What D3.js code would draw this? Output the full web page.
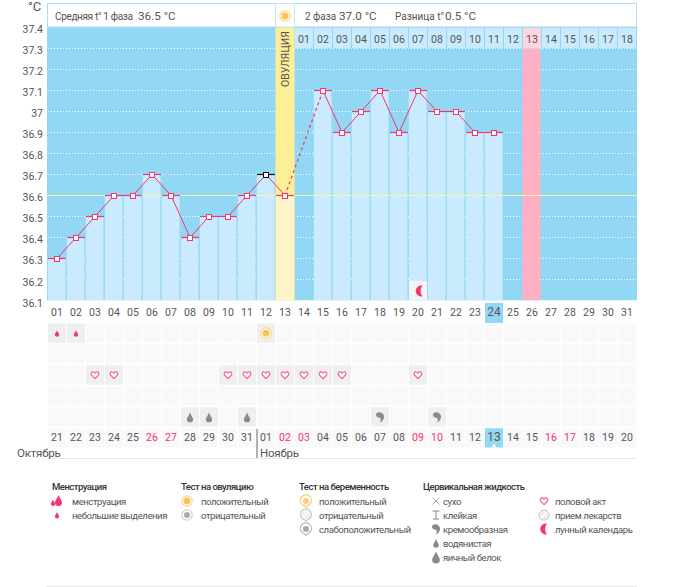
<!DOCTYPE html>
<html>
    <head>
        <meta charset="utf-8">
        <script src="https://d3js.org/d3.v7.min.js"></script>
        <title>График БТТ</title>
        <style>
            body { margin: 0; background-color: #fff }
            svg { display: block }
            text { font-family: Roboto, sans-serif; fill: #555 }
            .num { font-size: 10.5px; text-anchor: middle }
            .axis text { font-family: Roboto, sans-serif; font-size: 10.5px; fill: #555 }
        </style>
    </head>
    <body>
        <script>
            /* data */
            const days = d3.range(1, 32)
            const temps = [36.3, 36.4, 36.5, 36.6, 36.6, 36.7, 36.6, 36.4, 36.5, 36.5, 36.6, 36.7, 36.6,
                null, 37.1, 36.9, 37.0, 37.1, 36.9, 37.1, 37.0, 37.0, 36.9, 36.9]
            const yTicks = [37.4, 37.3, 37.2, 37.1, 37, 36.9, 36.8, 36.7, 36.6, 36.5, 36.4, 36.3, 36.2, 36.1]
            const calendarDays = ['21', '22', '23', '24', '25', '26', '27', '28', '29', '30', '31',
                '01', '02', '03', '04', '05', '06', '07', '08', '09', '10',
                '11', '12', '13', '14', '15', '16', '17', '18', '19', '20']
            const weekendDays = [6, 7, 13, 14, 20, 21, 27, 28]
            const ovulationDay = 13
            const todayDay = 24
            const periodDay = 26
            const blackDay = 12
            const coverline = 36.6
            const phase2Days = d3.range(14, 32)
            const spottingDays = [1, 2]
            const ovulationTestDays = [12]
            const heartDays = [3, 4, 10, 11, 12, 13, 14, 15, 16, 20]
            const wateryDays = [8, 9, 11]
            const creamyDays = [18, 21]
            const moonDays = [20]
            const rows = [0, 1, 2, 3, 4, 5]

            /* canvas setup */
            const width = 675
            const height = 587
            const pink = '#f6346e'
            const grey = '#8a8a8a'
            const sky = '#92d8f5'
            const pale = '#c9ebfd'

            const x = d3.scaleBand().domain(days).range([47.5, 636.5])
            const y = d3.scaleLinear().domain([36.1, 37.4]).range([300.3, 26.5])
            const row = d3.scaleBand().domain(rows).range([323.5, 447.5]).paddingInner(0.08)
            const cx = d => x(d) + x.bandwidth() / 2
            const cy = v => Math.round(y(v)) + 0.5

            const svg = d3.select('body').append('svg')
                .attr('width', width)
                .attr('height', height)

            /* icons, drawn around 0,0 */
            const dropPath = s => `M0,${-s}C${s * 0.25},${-s * 0.3} ${s * 0.7},${s * 0.1} ${s * 0.7},${s * 0.5}A${s * 0.7},${s * 0.7} 0 1 1 ${-s * 0.7},${s * 0.5}C${-s * 0.7},${s * 0.1} ${-s * 0.25},${-s * 0.3} 0,${-s}Z`
            const testPath = 'M-5.5,-1.5A5.5,5.5 0 1 1 2,4.5L0,6.5L-2,4.5A5.5,5.5 0 0 1 -5.5,-1.5Z'
            const icons = {
                drop: (g, s = 3.5, c = grey) => g.append('path').attr('d', dropPath(s)).attr('fill', c),
                heart: g => g.append('path')
                    .attr('d', 'M0,3.6L-3.4,0.2C-4.7,-1.6 -3.1,-3.5 -1.6,-3.1C-0.9,-2.9 -0.3,-2.5 0,-1.9C0.3,-2.5 0.9,-2.9 1.6,-3.1C3.1,-3.5 4.7,-1.6 3.4,0.2Z')
                    .attr('fill', '#fff').attr('stroke', '#f8558a').attr('stroke-width', 1.1),
                sun: g => {
                    g.append('circle').attr('r', 5.2).attr('fill', '#fff').attr('stroke', '#fbd77e').attr('stroke-width', 1.2)
                    g.append('circle').attr('r', 3.4).attr('fill', '#f9c25c')
                },
                sunGrey: g => {
                    g.append('circle').attr('r', 5.2).attr('fill', '#fff').attr('stroke', '#cfcfcf').attr('stroke-width', 1.2)
                    g.append('circle').attr('r', 3).attr('fill', '#aaa')
                },
                moon: g => g.append('path')
                    .attr('d', 'M3,-5.2A5.4,5.4 0 1 0 3,5.2A8,8 0 0 1 3,-5.2Z')
                    .attr('fill', '#f6346e'),
                comma: g => g.append('path')
                    .attr('d', 'M-4,-2.5C-3.5,-5 1,-5.5 3,-3C5,-0.5 4,3.5 0,5.5C1.2,3 1,1.2 -0.5,0.8C-2.5,0.6 -4.3,-0.5 -4,-2.5Z')
                    .attr('fill', grey),
                dry: g => g.append('path')
                    .attr('d', 'M-3.5,-3.5L3.5,3.5M3.5,-3.5L-3.5,3.5')
                    .attr('stroke', '#aaa').attr('fill', 'none'),
                sticky: g => g.append('path')
                    .attr('d', 'M-3.5,-4H3.5M0,-4V4M-3,4H3')
                    .attr('stroke', '#888').attr('fill', 'none'),
                flow: g => {
                    g.append('path').attr('d', dropPath(5)).attr('transform', 'translate(1.5,-1)').attr('fill', pink)
                    g.append('path').attr('d', dropPath(3)).attr('transform', 'translate(-4,1.5)').attr('fill', pink)
                },
                testPos: g => {
                    g.append('path').attr('d', testPath).attr('fill', '#fff').attr('stroke', '#f9cf78').attr('stroke-width', 1.2)
                    g.append('circle').attr('r', 3).attr('fill', '#f9cf78')
                },
                testNeg: g => g.append('path').attr('d', testPath).attr('fill', '#f4f4f4').attr('stroke', '#ccc').attr('stroke-width', 1.2),
                testWeak: g => {
                    g.append('path').attr('d', testPath).attr('fill', '#fff').attr('stroke', '#bbb').attr('stroke-width', 1.2)
                    g.append('circle').attr('r', 3).attr('fill', '#aaa')
                },
                pill: g => {
                    g.append('circle').attr('r', 5.2).attr('fill', '#eee').attr('stroke', '#ccc')
                    g.append('path').attr('d', 'M-3,3L3,-3').attr('stroke', '#fff').attr('stroke-width', 1.5)
                }
            }
            const putIcon = (px, py, draw, ...args) => draw(svg.append('g').attr('transform', `translate(${px},${py})`), ...args)

            /* chart background */
            svg.append('rect')
                .attr('x', 47).attr('y', 27).attr('width', 590).attr('height', y(36.1) - 27)
                .attr('fill', sky)

            svg.append('g').selectAll('line')
                .data(yTicks.slice(1))
                .join('line')
                    .attr('x1', 48).attr('x2', 636)
                    .attr('y1', d => cy(d)).attr('y2', d => cy(d))
                    .attr('stroke', '#fff')
                    .attr('stroke-dasharray', '1,2')

            /* ovulation and period columns */
            svg.append('rect')
                .attr('x', x(ovulationDay)).attr('y', 27).attr('width', x.bandwidth()).attr('height', y(36.1) - 27)
                .attr('fill', '#fdee98')
            svg.append('rect')
                .attr('x', x(periodDay)).attr('y', y(37.3) + 1).attr('width', x.bandwidth() - 1).attr('height', y(36.1) - y(37.3) - 1)
                .attr('fill', '#ffb0c4')

            /* bars */
            svg.append('g').selectAll('rect')
                .data(temps.map((t, i) => ({ day: i + 1, t })).filter(d => d.t !== null))
                .join('rect')
                    .attr('x', d => x(d.day) + 0.3)
                    .attr('y', d => cy(d.t))
                    .attr('width', d => d.day === ovulationDay ? x.bandwidth() - 0.6 : x.bandwidth() - 1.3)
                    .attr('height', d => y(36.1) - cy(d.t))
                    .attr('fill', d => d.day === ovulationDay ? '#fdf4c8' : pale)

            /* coverline */
            svg.append('line')
                .attr('x1', 47).attr('x2', 637)
                .attr('y1', cy(coverline)).attr('y2', cy(coverline))
                .attr('stroke', '#f7f3a8')

            /* header */
            svg.append('rect')
                .attr('x', 47.5).attr('y', 3.5).attr('width', 589).attr('height', 23.5)
                .attr('fill', '#fff').attr('stroke', '#a8dff6')
            svg.append('rect')
                .attr('x', x(ovulationDay)).attr('y', 3.5).attr('width', x.bandwidth()).attr('height', 23.5)
                .attr('fill', '#fff').attr('stroke', '#c3e9f8')
            putIcon(cx(ovulationDay), 16, icons.sun)

            const headerText = (px, label, size, spacing = 0) => svg.append('text')
                .attr('x', px).attr('y', 19.5).attr('font-size', size)
                .attr('letter-spacing', spacing).text(label)
            headerText(55, 'Средняя t° 1 фаза', 10, -0.35)
            headerText(138, '36.5 °C', 11.7)
            headerText(305, '2 фаза', 10)
            headerText(339, '37.0 °C', 11.7)
            headerText(395, 'Разница t°', 10)
            headerText(445, '0.5 °C', 11.7)

            svg.append('text')
                .attr('x', 28).attr('y', 11).attr('font-size', 13).text('°C')

            svg.append('text')
                .attr('transform', `translate(${cx(ovulationDay) + 4},87) rotate(-90)`)
                .attr('font-size', 10.5)
                .text('ОВУЛЯЦИЯ')

            /* phase 2 day cells */
            svg.append('g').selectAll('rect')
                .data(phase2Days)
                .join('rect')
                    .attr('x', d => x(d) + 0.5)
                    .attr('y', 28)
                    .attr('width', x.bandwidth() - 1)
                    .attr('height', 20)
                    .attr('fill', d => d === periodDay ? '#fdd5e0' : pale)
            svg.append('g').selectAll('text')
                .data(phase2Days)
                .join('text')
                    .attr('class', 'num')
                    .attr('x', cx)
                    .attr('y', 43)
                    .text(d => d3.format('02')(d - 13))

            /* temperature line */
            const line = d3.line().x(d => cx(d.day)).y(d => cy(d.t))
            const points = temps.map((t, i) => ({ day: i + 1, t }))
            const lineStyle = sel => sel.attr('fill', 'none').attr('stroke', pink).attr('stroke-width', 1)
            svg.append('path').datum(points.slice(0, 13)).attr('d', line).call(lineStyle)
            svg.append('path').datum(points.slice(14, 24)).attr('d', line).call(lineStyle)
            svg.append('path').datum([points[12], points[14]]).attr('d', line).call(lineStyle)
                .attr('stroke-width', 1.2).attr('stroke-dasharray', '3,3')

            const known = points.filter(d => d.t !== null)
            svg.append('g').selectAll('line')
                .data(known)
                .join('line')
                    .attr('x1', d => x(d.day) + 0.5).attr('x2', d => x(d.day) + x.bandwidth() - 0.5)
                    .attr('y1', d => cy(d.t)).attr('y2', d => cy(d.t))
                    .attr('stroke', d => d.day === blackDay ? '#111' : pink)
                    .attr('stroke-width', 1.2)
            svg.append('g').selectAll('rect')
                .data(known)
                .join('rect')
                    .attr('x', d => Math.round(cx(d.day)) - 2.5)
                    .attr('y', d => cy(d.t) - 2.5)
                    .attr('width', 5).attr('height', 5)
                    .attr('fill', '#fff')
                    .attr('stroke', d => d.day === blackDay ? '#111' : pink)
                    .attr('stroke-width', 1)
                    .attr('shape-rendering', 'crispEdges')

            /* moon cell on the chart */
            svg.append('g').selectAll('rect')
                .data(moonDays)
                .join('rect')
                    .attr('x', d => x(d) + 0.5).attr('y', 281)
                    .attr('width', x.bandwidth() - 1).attr('height', y(36.1) - 281)
                    .attr('fill', '#f4f3f5')
            moonDays.forEach(d => putIcon(cx(d) + 1.5, 291, icons.moon))

            /* y axis */
            const axis = svg.append('g')
                .attr('class', 'axis')
                .attr('transform', 'translate(47,0)')
                .call(d3.axisLeft(y).tickValues(yTicks).tickSize(0).tickPadding(4).tickFormat(d3.format('')))
            axis.select('.domain').remove()
            axis.selectAll('text').attr('dy', '0.55em')

            /* upper day numbers */
            svg.append('rect')
                .attr('x', x(todayDay) + 0.5).attr('y', 303)
                .attr('width', x.bandwidth() - 1).attr('height', 20)
                .attr('fill', sky)
            svg.append('g').selectAll('text')
                .data(days)
                .join('text')
                    .attr('class', 'num')
                    .attr('x', cx)
                    .attr('y', 316)
                    .style('font-size', d => d === todayDay ? '12px' : null)
                    .text(d => d3.format('02')(d))

            /* marks grid */
            const activeCells = [
                ...spottingDays.map(d => [d, 0]),
                ...ovulationTestDays.map(d => [d, 0]),
                ...heartDays.map(d => [d, 2]),
                ...wateryDays.map(d => [d, 4]),
                ...creamyDays.map(d => [d, 4])
            ]
            rows.forEach(r => {
                svg.append('g').selectAll('rect')
                    .data(days)
                    .join('rect')
                        .attr('x', d => x(d) + 0.5)
                        .attr('y', row(r))
                        .attr('width', x.bandwidth() - 1)
                        .attr('height', row.bandwidth())
                        .attr('fill', d => {
                            if (r === 5 && d === todayDay) return sky
                            return activeCells.some(c => c[0] === d && c[1] === r) ? '#efeef0' : '#f9f8fb'
                        })
            })
            const rowMid = r => row(r) + row.bandwidth() / 2
            spottingDays.forEach(d => putIcon(cx(d), rowMid(0), icons.drop, 3, pink))
            ovulationTestDays.forEach(d => putIcon(cx(d), rowMid(0), icons.sun))
            heartDays.forEach(d => putIcon(cx(d), rowMid(2), icons.heart))
            wateryDays.forEach(d => putIcon(cx(d), rowMid(4), icons.drop, 4.5))
            creamyDays.forEach(d => putIcon(cx(d), rowMid(4), icons.comma))

            /* calendar row */
            svg.append('g').selectAll('text')
                .data(calendarDays)
                .join('text')
                    .attr('class', 'num')
                    .attr('x', (d, i) => cx(days[i]))
                    .attr('y', 441)
                    .style('fill', (d, i) => weekendDays.includes(days[i]) ? pink : null)
                    .style('font-size', (d, i) => days[i] === todayDay ? '12px' : null)
                    .text(d => d)
            svg.append('path')
                .attr('d', d3.symbol(d3.symbolTriangle, 10)())
                .attr('transform', `translate(${cx(todayDay)},446)`)
                .attr('fill', '#fff')

            svg.append('line')
                .attr('x1', x(12) + 0.5).attr('x2', x(12) + 0.5)
                .attr('y1', 429).attr('y2', 458)
                .attr('stroke', '#666')
            svg.append('line')
                .attr('x1', 47).attr('x2', 637).attr('y1', 458.5).attr('y2', 458.5)
                .attr('stroke', '#e8eaea')
            svg.append('text').attr('x', 17).attr('y', 457).attr('font-size', 11.5).attr('letter-spacing', -0.2).text('Октябрь')
            svg.append('text').attr('x', 260).attr('y', 457).attr('font-size', 11.5).attr('letter-spacing', -0.2).text('Ноябрь')

            /* legend */
            const legendGroups = [
                { title: 'Менструация', tx: 52, ix: 57, lx: 72, items: [
                    ['менструация', icons.flow], ['небольшие выделения', g => icons.drop(g, 3, pink)]] },
                { title: 'Тест на овуляцию', tx: 181, ix: 187, lx: 201, items: [
                    ['положительный', icons.sun], ['отрицательный', icons.sunGrey]] },
                { title: 'Тест на беременность', tx: 299, ix: 306, lx: 319, items: [
                    ['положительный', icons.testPos], ['отрицательный', icons.testNeg], ['слабоположительный', icons.testWeak]] },
                { title: 'Цервикальная жидкость', tx: 423, ix: 436, lx: 443, items: [
                    ['сухо', icons.dry], ['клейкая', icons.sticky], ['кремообразная', icons.comma],
                    ['водянистая', g => icons.drop(g, 4)], ['яичный белок', g => icons.drop(g, 5.5)]] },
                { title: '', tx: 0, ix: 544, lx: 555, items: [
                    ['половой акт', icons.heart], ['прием лекарств', icons.pill], ['лунный календарь', icons.moon]] }
            ]
            legendGroups.forEach(group => {
                svg.append('text')
                    .attr('x', group.tx).attr('y', 490)
                    .attr('font-size', 9.5)
                    .attr('font-weight', 500)
                    .attr('letter-spacing', -0.5)
                    .style('fill', '#333')
                    .text(group.title)
                group.items.forEach((item, i) => {
                    const py = 501 + i * 14
                    putIcon(group.ix, py, item[1])
                    svg.append('text')
                        .attr('x', group.lx).attr('y', py + 3.5)
                        .attr('font-size', 9.5)
                        .attr('letter-spacing', -0.4)
                        .text(item[0])
                })
            })

            svg.append('line')
                .attr('x1', 46).attr('x2', 637).attr('y1', 586.5).attr('y2', 586.5)
                .attr('stroke', '#e8eaea')
        </script>
    </body>
</html>
